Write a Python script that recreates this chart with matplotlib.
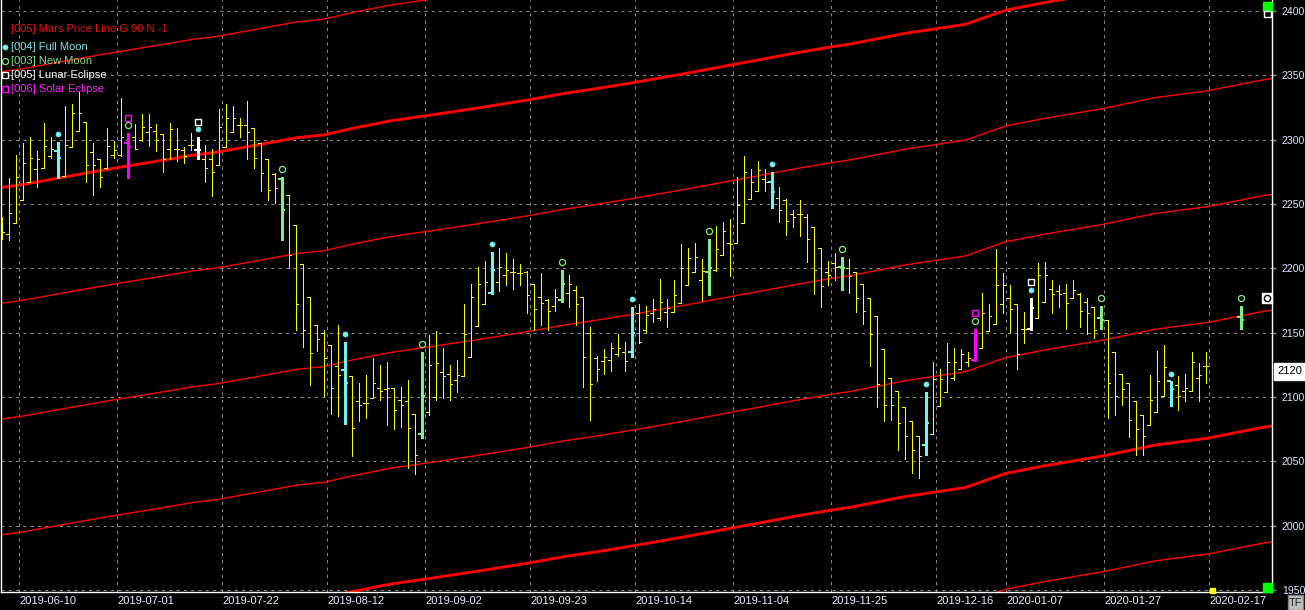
import matplotlib
matplotlib.use("Agg")
import matplotlib.pyplot as plt
import matplotlib.transforms as mtransforms
from matplotlib.patches import Rectangle
import numpy as np

plt.rcParams['font.family'] = ['Liberation Sans', 'DejaVu Sans']

# ---- data (bar index = trading day) ----
date_labels = ["2019-06-10", "2019-07-01", "2019-07-22", "2019-08-12", "2019-09-02",
               "2019-09-23", "2019-10-14", "2019-11-04", "2019-11-25", "2019-12-16",
               "2020-01-07", "2020-01-27", "2020-02-17"]
date_bars = [3, 17, 32, 47, 61, 76, 91, 105, 119, 134, 144, 158, 173]

opens = [2235, 2227, 2235, 2253, 2267, 2277, 2278, 2287, 2291, 2272,
         2294, 2307, 2314, 2290, 2285, 2278, 2288, 2288, 2297, 2302,
         2300, 2306, 2307, 2304, 2293, 2293, 2292, 2296, 2292, 2285,
         2285, 2280, 2294, 2306, 2311, 2311, 2309, 2297, 2285, 2273,
         2269, 2257, 2234, 2203, 2178, 2156, 2150, 2140, 2124, 2121,
         2116, 2097, 2095, 2099, 2107, 2106, 2107, 2098, 2097, 2087,
         2071, 2088, 2100, 2119, 2118, 2113, 2116, 2131, 2155, 2172,
         2181, 2189, 2195, 2197, 2196, 2197, 2188, 2178, 2175, 2171,
         2175, 2181, 2183, 2178, 2150, 2130, 2128, 2129, 2133, 2135,
         2135, 2165, 2152, 2165, 2161, 2166, 2166, 2173, 2187, 2197,
         2191, 2197, 2199, 2210, 2220, 2220, 2235, 2254, 2260, 2269,
         2267, 2255, 2253, 2242, 2242, 2240, 2232, 2216, 2197, 2204,
         2201, 2200, 2197, 2188, 2177, 2163, 2137, 2115, 2105, 2092,
         2081, 2070, 2063, 2071, 2093, 2104, 2115, 2122, 2127, 2129,
         2138, 2151, 2157, 2172, 2177, 2172, 2153, 2153, 2161, 2174,
         2184, 2182, 2181, 2177, 2180, 2174, 2170, 2161, 2160, 2135,
         2118, 2111, 2097, 2086, 2078, 2088, 2101, 2112, 2109, 2105,
         2105, 2115, 2124]
highs = [2240, 2270, 2288, 2297, 2302, 2291, 2313, 2302, 2298, 2326,
         2328, 2337, 2314, 2297, 2285, 2309, 2299, 2332, 2305, 2312,
         2320, 2320, 2312, 2304, 2313, 2309, 2294, 2305, 2302, 2296,
         2293, 2324, 2328, 2326, 2317, 2330, 2309, 2297, 2285, 2274,
         2271, 2257, 2234, 2203, 2178, 2156, 2152, 2140, 2156, 2143,
         2116, 2111, 2117, 2130, 2125, 2127, 2107, 2108, 2113, 2087,
         2135, 2148, 2151, 2138, 2125, 2129, 2172, 2188, 2201, 2206,
         2213, 2216, 2212, 2207, 2203, 2198, 2188, 2196, 2176, 2184,
         2199, 2195, 2186, 2178, 2154, 2132, 2137, 2142, 2149, 2143,
         2170, 2172, 2171, 2176, 2192, 2176, 2191, 2219, 2216, 2220,
         2207, 2223, 2233, 2236, 2238, 2271, 2287, 2277, 2283, 2277,
         2275, 2263, 2254, 2245, 2253, 2242, 2232, 2216, 2206, 2212,
         2209, 2207, 2197, 2188, 2177, 2163, 2137, 2115, 2105, 2092,
         2081, 2070, 2104, 2127, 2122, 2142, 2138, 2137, 2135, 2153,
         2181, 2172, 2215, 2196, 2187, 2172, 2166, 2177, 2204, 2205,
         2191, 2187, 2188, 2191, 2181, 2177, 2170, 2171, 2160, 2135,
         2118, 2111, 2097, 2086, 2117, 2136, 2140, 2112, 2116, 2118,
         2135, 2126, 2135]
lows = [2223, 2222, 2235, 2253, 2267, 2263, 2278, 2286, 2270, 2271,
        2294, 2307, 2267, 2257, 2263, 2277, 2286, 2287, 2270, 2293,
        2299, 2295, 2291, 2275, 2285, 2283, 2282, 2292, 2285, 2267,
        2256, 2280, 2294, 2306, 2302, 2285, 2278, 2260, 2253, 2251,
        2222, 2200, 2152, 2139, 2109, 2136, 2101, 2087, 2085, 2079,
        2054, 2081, 2084, 2099, 2098, 2078, 2075, 2077, 2045, 2040,
        2068, 2086, 2098, 2099, 2098, 2104, 2116, 2131, 2155, 2172,
        2180, 2182, 2187, 2184, 2187, 2165, 2152, 2156, 2152, 2167,
        2174, 2170, 2156, 2108, 2082, 2112, 2118, 2120, 2132, 2120,
        2131, 2142, 2150, 2158, 2160, 2154, 2166, 2173, 2187, 2197,
        2175, 2179, 2198, 2210, 2194, 2220, 2235, 2254, 2260, 2260,
        2247, 2236, 2226, 2232, 2225, 2205, 2180, 2170, 2187, 2191,
        2183, 2181, 2166, 2157, 2124, 2092, 2081, 2082, 2059, 2052,
        2041, 2037, 2055, 2071, 2093, 2104, 2113, 2122, 2124, 2128,
        2138, 2151, 2157, 2165, 2150, 2122, 2142, 2152, 2161, 2174,
        2165, 2170, 2153, 2177, 2154, 2149, 2146, 2153, 2084, 2086,
        2094, 2069, 2055, 2055, 2078, 2088, 2101, 2093, 2090, 2097,
        2105, 2097, 2111]
closes = [2228, 2243, 2271, 2282, 2286, 2285, 2295, 2293, 2286, 2296,
          2321, 2321, 2280, 2280, 2271, 2295, 2292, 2302, 2294, 2293,
          2310, 2310, 2300, 2285, 2308, 2293, 2287, 2296, 2292, 2278,
          2275, 2310, 2317, 2317, 2311, 2306, 2286, 2274, 2261, 2262,
          2245, 2210, 2172, 2152, 2134, 2145, 2130, 2107, 2117, 2111,
          2076, 2094, 2095, 2111, 2105, 2107, 2090, 2094, 2076, 2055,
          2101, 2125, 2126, 2116, 2110, 2117, 2149, 2178, 2188, 2189,
          2199, 2201, 2199, 2197, 2196, 2179, 2168, 2173, 2167, 2178,
          2188, 2188, 2172, 2131, 2110, 2122, 2131, 2138, 2138, 2128,
          2150, 2143, 2164, 2168, 2174, 2169, 2179, 2200, 2208, 2209,
          2198, 2200, 2215, 2229, 2219, 2249, 2275, 2267, 2276, 2267,
          2259, 2245, 2237, 2240, 2242, 2223, 2199, 2186, 2195, 2201,
          2200, 2194, 2177, 2167, 2149, 2110, 2094, 2094, 2080, 2070,
          2059, 2054, 2080, 2114, 2114, 2127, 2127, 2133, 2130, 2148,
          2165, 2163, 2187, 2187, 2168, 2133, 2153, 2169, 2195, 2195,
          2180, 2180, 2173, 2183, 2167, 2165, 2152, 2160, 2111, 2101,
          2106, 2082, 2075, 2070, 2098, 2112, 2123, 2106, 2101, 2107,
          2127, 2117, 2124]

# projected new-moon bar beyond the last session
future_bar = 177
future_ohlc = [2162, 2171, 2153, 2160]

full_moon = [8, 28, 49, 70, 90, 110, 132, 147, 167]
new_moon = [18, 40, 60, 80, 101, 120, 139, 157]
lunar_eclipse = [28, 147]
solar_eclipse = [18, 139]

# Mars price line (base, read at sample bars), drawn at +/- 90 steps
mars_x = [-0.2, 2.7, 8, 12, 16, 22, 27.4, 30.5, 36, 42.2, 46, 50.2, 55.5, 61.2,
          67.7, 75.2, 80.5, 85.2, 91, 97.7, 104.4, 109.5, 113.8, 118.7, 121.2,
          129.1, 137.7, 143.4, 149.0, 151.2, 157.4, 164.8, 172.4, 179.8, 181.5]
mars_base = [2262.7, 2264.8, 2270, 2273.9, 2277.7, 2283, 2288, 2290, 2295.3,
             2301.5, 2303.6, 2308.8, 2314.5, 2319, 2324.3, 2330.8, 2336, 2339.8,
             2345, 2351.4, 2358.2, 2363.3, 2367.7, 2372.2, 2374.2, 2382.6,
             2389.6, 2400.5, 2406.5, 2408.5, 2414.2, 2422.6, 2428, 2436, 2437.5]
mars_offsets = [-450, -360, -270, -180, -90, 0, 90]

last_price = 2120

# ---- figure ----
W, H = 1305, 610
fig = plt.figure(figsize=(W / 100, H / 100), dpi=100, facecolor="black")
ax = fig.add_axes([1 / W, 18 / H, 1271 / W, 592 / H], facecolor="black")
# bar i sits on pixel column 1 + 7*i (pixel centre)
ax.set_xlim(-0.5 / 7, 1270.5 / 7)
ax.set_ylim(1948.4, 2408.5)

YELLOW = "#ffff00"
CYAN = "#70f4f4"
GREEN = "#80f080"
MAGENTA = "#ff00ff"
WHITE = "#ffffff"

# Mars lines
mx = np.array(mars_x)
mb = np.array(mars_base)
for off in mars_offsets:
    thick = off % 360 == 0
    ax.plot(mx, mb + off, color="#ff0000", lw=2.1 if thick else 1.0,
            solid_capstyle="butt", zorder=2)

# bars
idx = np.arange(len(opens))
o = np.array(opens, float)
h = np.array(highs, float)
l = np.array(lows, float)
c = np.array(closes, float)

colors = {}
for i in full_moon:
    colors[i] = CYAN
for i in new_moon:
    colors[i] = GREEN
for i in lunar_eclipse:
    colors[i] = WHITE
for i in solar_eclipse:
    colors[i] = MAGENTA


def segs(x0, x1, y0, y1):
    n = len(x0)
    xs = np.column_stack([x0, x1, np.full(n, np.nan)]).ravel()
    ys = np.column_stack([y0, y1, np.full(n, np.nan)]).ravel()
    return xs, ys


def draw_bars(ix, bo, bh, bl, bc, color, lw, tlw, tick):
    ix = np.asarray(ix, float)
    kw = dict(color=color, solid_capstyle="butt", antialiased=False, zorder=3)
    ax.plot(*segs(ix, ix, bl, bh), lw=lw, **kw)
    ax.plot(*segs(ix - tick, ix, bo, bo), lw=tlw, **kw)
    ax.plot(*segs(ix, ix + tick, bc, bc), lw=tlw, **kw)


plain = np.array([i not in colors for i in idx])
draw_bars(idx[plain], o[plain], h[plain], l[plain], c[plain], YELLOW, 0.72, 0.72, 0.36)
for col in [CYAN, GREEN, WHITE, MAGENTA]:
    sel = np.array([colors.get(i) == col for i in idx])
    draw_bars(idx[sel], o[sel], h[sel], l[sel], c[sel], col, 2.1, 1.3, 0.5)
fo, fh, fl, fc = future_ohlc
draw_bars([future_bar], [fo], [fh], [fl], [fc], GREEN, 2.1, 1.3, 0.5)

# event markers stacked above the high
all_high = dict(zip(idx.tolist(), h))
all_high[future_bar] = fh
stack = {}


def mark(i, style):
    k = stack.get(i, 0) + 1
    stack[i] = k
    y = all_high[i] + 6 * k
    ax.plot([i], [y], linestyle="none", zorder=4, **style)


dot = dict(marker="o", ms=3.6, mfc=CYAN, mec=CYAN, mew=0.5)
ring = dict(marker="o", ms=4.4, mfc="none", mec=GREEN, mew=0.9)
wsq = dict(marker="s", ms=4.6, mfc="none", mec=WHITE, mew=1.0)
msq = dict(marker="s", ms=4.6, mfc="none", mec=MAGENTA, mew=1.0)
for i in full_moon:
    mark(i, dot)
for i in new_moon + [future_bar]:
    mark(i, ring)
for i in lunar_eclipse:
    mark(i, wsq)
for i in solar_eclipse:
    mark(i, msq)

# axes styling
tick_pos = [b - 0.5 for b in date_bars]
ax.set_xticks(tick_pos)
ax.set_xticklabels(date_labels)
for t in ax.get_xticklabels():
    t.set_horizontalalignment("left")
ax.set_yticks(np.arange(1950, 2401, 50))
ax.yaxis.tick_right()
ax.tick_params(axis="x", length=0, pad=3, labelsize=8, labelcolor="#e8eeff")
ax.tick_params(axis="y", length=3, width=1, color="#909090", pad=4,
               labelsize=7.6, labelcolor="#dfe7ff")
ax.grid(True, color="#8a8a8a", linestyle=(0, (3, 4)), linewidth=0.75, zorder=1)
ax.set_axisbelow(True)
for side in ["left", "bottom", "right"]:
    ax.spines[side].set_color("white")
    ax.spines[side].set_linewidth(1)
ax.spines["top"].set_visible(False)


# legend (top-left), positions in pixels of the figure
def fpx(x, y):
    return x / W, 1 - y / H


legend = [("[005] Mars Price Line G 90 N -1", "#e81010", None),
          ("[004] Full Moon", "#78e6e6", dot),
          ("[003] New Moon", "#88e088", ring),
          ("[005] Lunar Eclipse", "#ffffff", wsq),
          ("[006] Solar Eclipse", "#ff20ff", msq)]
for k, (txt, col, style) in enumerate(legend):
    y = 29 if k == 0 else 47 + 14 * (k - 1)
    fig.text(*fpx(11, y), txt, color=col, fontsize=8, va="center", ha="left")
    if style:
        fig.lines.append(plt.Line2D([5 / W], [1 - y / H], transform=fig.transFigure,
                                    linestyle="none", **style))

# price-scale extras on the right
blend = mtransforms.blended_transform_factory(ax.transAxes, ax.transData)
ax.text((1277.5 - 1) / 1271, last_price, str(last_price), transform=blend,
        ha="left", va="center", fontsize=8, color="black", clip_on=False,
        bbox=dict(boxstyle="square,pad=0.3", fc="white", ec="white"))
ax.plot([1 - 5 / 1271], [future_ohlc[1] + 6], transform=blend, marker="s", ms=7,
        mfc="white", mec="white", clip_on=False, zorder=6)
ax.plot([1 - 5 / 1271], [future_ohlc[1] + 6], transform=blend, marker="o", ms=4.5,
        mfc="white", mec="black", mew=1, clip_on=False, zorder=7)

for (x0, y0, w, hh, fcol, ecol) in [(1263, 2, 9, 9, "#00ff00", "#00ff00"),
                                    (1263, 583, 9, 9, "#00ff00", "#00ff00"),
                                    (1264, 11, 7, 6, "black", "white"),
                                    (1210, 588, 5, 5, YELLOW, YELLOW),
                                    (1288, 595, 15, 15, "#c0c0c0", "#808080")]:
    fig.add_artist(Rectangle((x0 / W, 1 - (y0 + hh) / H), w / W, hh / H,
                             transform=fig.transFigure, fc=fcol, ec=ecol, lw=1,
                             zorder=8))
fig.text(*fpx(1295.5, 603), "TF", color="#202020", fontsize=8, ha="center",
         va="center", zorder=9)

fig.savefig("out.png", dpi=100, facecolor="black")
